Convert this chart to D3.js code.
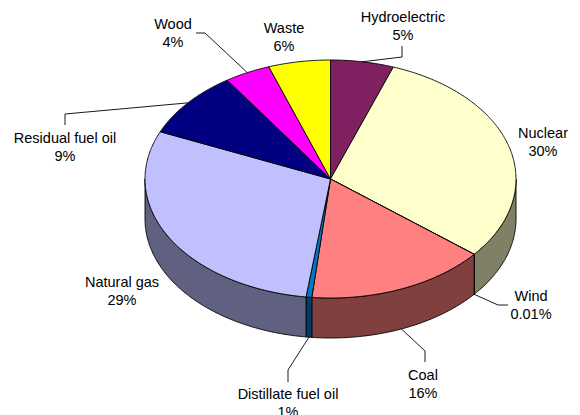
<!DOCTYPE html>
<html>
<head>
<meta charset="utf-8">
<script src="https://cdn.jsdelivr.net/npm/d3@7"></script>
<style>
    body { margin: 0; background: #fff; }
    text { font-family: "Liberation Sans", Arial, sans-serif; font-size: 14.5px; fill: #000; }
</style>
</head>
<body>
<div id="chart"></div>
<script>
// electricity sources, clockwise from 12 o'clock
var sources = ["Hydroelectric", "Nuclear", "Wind", "Coal", "Distillate fuel oil", "Natural gas", "Residual fuel oil", "Wood", "Waste"];
var shares = [5.5, 30.4, 0.01, 15.7, 0.5, 29.4, 9.1, 4.0, 5.4];
var shareLabels = ["5%", "30%", "0.01%", "16%", "1%", "29%", "9%", "4%", "6%"];
var colors = ["#802060", "#FFFFCC", "#CCFFFF", "#FF8080", "#0078C8", "#C0C0FF", "#000080", "#FF00FF", "#FFFF00"];

var width = 580, height = 415;
var cx = 330.5, cy = 179, rx = 185.5, ry = 119, depth = 40;

// label layout: text centre + leader (anchor on "top" edge or "bottom" of side)
var labelPos = [
    {x: 403, y: 17, anchor: "top", elbow: [[402, 57], [402, 46]]},
    {x: 543, y: 133},
    {x: 531, y: 296, anchor: "bottom", elbow: [[498, 305], [508, 305]]},
    {x: 423, y: 375, anchor: "bottom", elbow: [[425, 351], [425, 362]]},
    {x: 288, y: 394, anchor: "bottom", elbow: [[288, 370], [288, 382]]},
    {x: 122, y: 282},
    {x: 65, y: 138, anchor: "top", elbow: [[65, 114], [65, 125]]},
    {x: 173, y: 24, anchor: "top", elbow: [[205, 33], [196, 33]]},
    {x: 284, y: 28}
];

var svg = d3.select("#chart").append("svg")
    .attr("width", width)
    .attr("height", height);

var data = sources.map(function (s, i) {
    return {name: s, value: shares[i], label: shareLabels[i], color: colors[i], pos: labelPos[i]};
});

var pie = d3.pie()
    .sort(null)
    .value(function (d) { return d.value; })
    .startAngle(0)
    .endAngle(2 * Math.PI);

var arcs = pie(data);

function pt(a, dy) {
    return [cx + rx * Math.sin(a), cy - ry * Math.cos(a) + (dy || 0)];
}

function arcPoints(a0, a1, dy) {
    var n = Math.max(2, Math.ceil(Math.abs(a1 - a0) / 0.01));
    var pts = [];
    for (var k = 0; k <= n; k++) {
        pts.push(pt(a0 + (a1 - a0) * k / n, dy));
    }
    return pts;
}

var line = d3.line();

function sideColor(c) {
    var r = d3.rgb(c);
    return d3.rgb(r.r * 0.5, r.g * 0.5, r.b * 0.5).formatHex();
}

// side walls (only front half is visible)
svg.append("g").selectAll("path")
    .data(arcs.filter(function (d) {
        return d.endAngle > Math.PI / 2 && d.startAngle < 3 * Math.PI / 2;
    }))
    .enter().append("path")
    .attr("d", function (d) {
        var s0 = Math.max(d.startAngle, Math.PI / 2);
        var s1 = Math.min(d.endAngle, 3 * Math.PI / 2);
        var pts = arcPoints(s0, s1, 0).concat(arcPoints(s1, s0, depth));
        return line(pts) + "Z";
    })
    .style("fill", function (d) { return sideColor(d.data.color); })
    .style("stroke", "#000")
    .style("stroke-width", 0.9)
    .style("stroke-linejoin", "round");

// top faces
svg.append("g").selectAll("path")
    .data(arcs)
    .enter().append("path")
    .attr("d", function (d) {
        var pts = [[cx, cy]].concat(arcPoints(d.startAngle, d.endAngle, 0));
        return line(pts) + "Z";
    })
    .style("fill", function (d) { return d.data.color; })
    .style("stroke", "#000")
    .style("stroke-width", 0.9)
    .style("stroke-linejoin", "round");

// leader lines
svg.append("g").selectAll("path")
    .data(arcs.filter(function (d) { return d.data.pos.anchor; }))
    .enter().append("path")
    .attr("d", function (d) {
        var mid = (d.startAngle + d.endAngle) / 2;
        var start = pt(mid, d.data.pos.anchor === "bottom" ? depth : 0);
        return line([start].concat(d.data.pos.elbow));
    })
    .style("fill", "none")
    .style("stroke", "#000")
    .style("stroke-width", 0.9);

// labels
var labels = svg.append("g").selectAll("text")
    .data(arcs)
    .enter().append("text")
    .attr("text-anchor", "middle");

labels.append("tspan")
    .attr("x", function (d) { return d.data.pos.x; })
    .attr("y", function (d) { return d.data.pos.y + 5; })
    .text(function (d) { return d.data.name; });

labels.append("tspan")
    .attr("x", function (d) { return d.data.pos.x; })
    .attr("y", function (d) { return d.data.pos.y + 23; })
    .text(function (d) { return d.data.label; });
</script>
</body>
</html>
